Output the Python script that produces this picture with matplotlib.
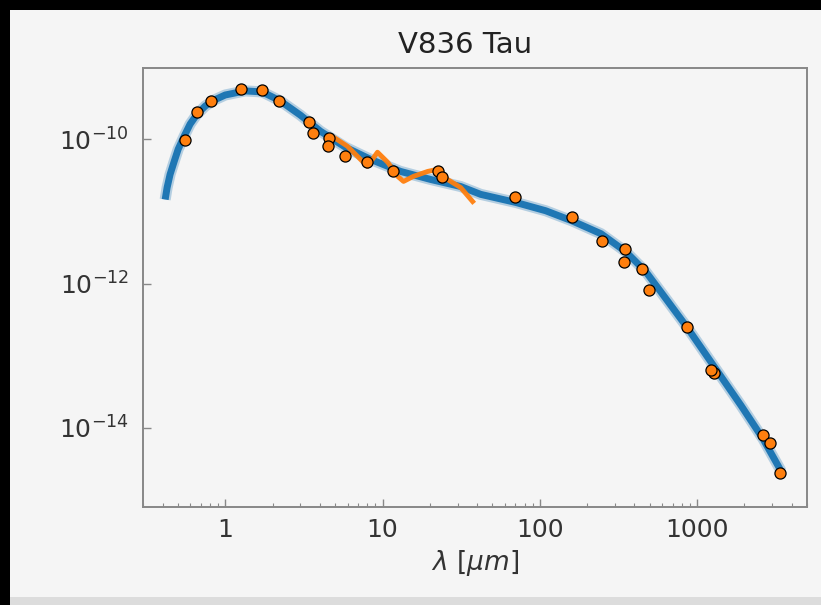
import matplotlib
matplotlib.use("Agg")
import matplotlib.pyplot as plt
from matplotlib.patches import Rectangle
import numpy as np

# photometry (orange dots)
phot_wl = [0.556, 0.66, 0.81, 1.26, 1.72, 2.2, 3.43, 3.6, 4.6, 4.5, 5.8, 8.0,
           11.6, 22.4, 24, 70, 160, 248, 348, 345, 447, 494, 863, 1282, 1230,
           2630, 2920, 3380]
phot_flux = [9.8e-11, 2.37e-10, 3.4e-10, 5.0e-10, 4.8e-10, 3.4e-10, 1.73e-10,
             1.21e-10, 1.03e-10, 8.0e-11, 5.8e-11, 4.8e-11, 3.6e-11, 3.6e-11,
             2.95e-11, 1.56e-11, 8.45e-12, 3.9e-12, 3.0e-12, 2.0e-12, 1.6e-12,
             8.1e-13, 2.5e-13, 5.8e-14, 6.3e-14, 8.0e-15, 6.2e-15, 2.36e-15]

# IRS spectrum (orange line)
spec_wl = [4.87, 5.98, 7.24, 8.02, 9.29, 10.8, 12.5, 13.6, 15.7, 19.4, 22.4,
           25.9, 31.4, 37.4]
spec_flux = [1.07e-10, 8.0e-11, 5.26e-11, 4.2e-11, 6.6e-11, 4.78e-11, 3.05e-11,
             2.6e-11, 3.05e-11, 3.58e-11, 3.82e-11, 2.77e-11, 2.14e-11, 1.37e-11]

# best model (blue band)
model_wl = [0.415, 0.427, 0.446, 0.474, 0.502, 0.548, 0.598, 0.663, 0.746,
            0.851, 1.0, 1.34, 1.72, 2.24, 3.0, 4.03, 5.81, 8.39, 13.0, 20.2,
            31.4, 42.1, 70.3, 109, 160, 245, 353, 473, 590, 863, 1282, 1906,
            2630, 3428]
model_flux = [1.46e-11, 2.14e-11, 3.25e-11, 4.95e-11, 7.26e-11, 1.10e-10,
              1.62e-10, 2.23e-10, 2.88e-10, 3.49e-10, 4.1e-10, 4.67e-10,
              4.52e-10, 3.39e-10, 2.16e-10, 1.29e-10, 7.74e-11, 5.26e-11,
              3.58e-11, 2.77e-11, 2.21e-11, 1.72e-11, 1.33e-11, 1.02e-11,
              7.4e-12, 4.9e-12, 2.75e-12, 1.45e-12, 7.6e-13, 2.48e-13, 7.1e-14,
              2.03e-14, 7.0e-15, 2.5e-15]

bg = '#f5f5f5'
fig = plt.figure(figsize=(8.21, 6.05), dpi=100)
fig.patch.set_facecolor('black')
fig.patches.append(Rectangle((10 / 821, 0), 1, 595 / 605, transform=fig.transFigure,
                             facecolor='#dcdcdc', edgecolor='none', zorder=-2))
fig.patches.append(Rectangle((10 / 821, 8 / 605), 1, 587 / 605, transform=fig.transFigure,
                             facecolor=bg, edgecolor='none', zorder=-1))

ax = fig.add_axes([143 / 821, 98 / 605, 664 / 821, 439 / 605])
ax.set_facecolor(bg)

ax.plot(model_wl, model_flux, color='#1f77b4', lw=8, alpha=0.3, solid_capstyle='butt',
        solid_joinstyle='round')
ax.plot(model_wl, model_flux, color='#1f77b4', lw=5, solid_capstyle='butt',
        solid_joinstyle='round')
ax.plot(spec_wl, spec_flux, color='#ff7f0e', lw=3.5, alpha=0.95, solid_joinstyle='round')
ax.plot(phot_wl, phot_flux, 'o', color='#ff7f0e', mec='black', mew=0.9, ms=8)

ax.set_xscale('log')
ax.set_yscale('log')
ax.set_xlim(0.30, 5000)
ax.set_ylim(8.0e-16, 9.7e-10)

ax.set_xticks([1, 10, 100, 1000])
ax.set_xticklabels(['1', '10', '100', '1000'])
ax.set_yticks([1e-10, 1e-12, 1e-14])
ax.set_yticklabels([r'$10^{-10}$', r'$10^{-12}$', r'$10^{-14}$'])
ax.yaxis.set_minor_locator(matplotlib.ticker.NullLocator())
ax.tick_params(which='both', direction='in', colors='#888888', labelcolor='#333333',
               labelsize=18, top=False, right=False)
ax.tick_params(which='major', length=6, width=1)
ax.tick_params(which='minor', length=3, width=0.8)
ax.tick_params(axis='x', pad=8)
ax.tick_params(axis='y', pad=10)

for s in ax.spines.values():
    s.set_color('#888888')
    s.set_linewidth(1.4)

ax.set_title('V836 Tau', fontsize=21, color='#222222', pad=11, x=0.485)
ax.set_xlabel(r'$\lambda\ [\mu m]$', fontsize=19, color='#333333', labelpad=4)

fig.savefig('out.png', dpi=100, facecolor=fig.get_facecolor())
